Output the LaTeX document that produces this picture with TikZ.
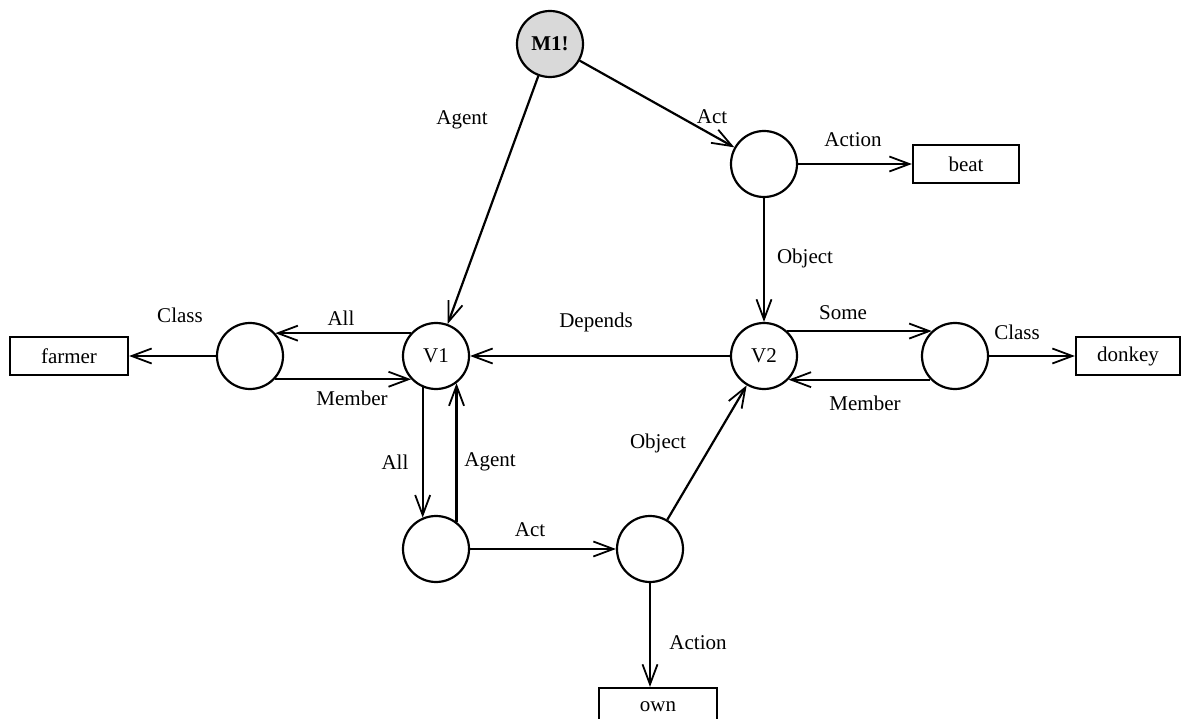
\documentclass[tikz,border=0pt]{standalone}
\usepackage{fontspec}
\setmainfont{Liberation Serif}
\usetikzlibrary{arrows.meta}
\begin{document}
\begin{tikzpicture}[x=1pt,y=-1pt,
  every node/.style={font=\fontsize{21}{25}\selectfont},
  vnode/.style={circle,draw,line width=2.2pt,minimum size=66pt,inner sep=0pt},
  lex/.style={rectangle,draw,line width=2.2pt,minimum height=38pt,inner sep=0pt},
  arr/.style={line width=2.2pt,-{Straight Barb[length=20pt,width=15pt,line width=1.8pt]}},
  lbl/.style={inner sep=1pt}]
\useasboundingbox (0,0) rectangle (1181,719);
% nodes
\node[vnode,fill=gray!30,font=\fontsize{21}{25}\selectfont\bfseries] (M1) at (550,44) {M1!};
\node[vnode] (act1) at (764,164) {};
\node[lex,minimum width=106pt] (beat) at (966,164) {beat};
\node[vnode] (V1) at (436,356) {V1};
\node[vnode] (V2) at (764,356) {V2};
\node[vnode] (L) at (250,356) {};
\node[vnode] (R) at (955,356) {};
\node[lex,minimum width=118pt] (farmer) at (69,356) {farmer};
\node[lex,minimum width=104pt] (donkey) at (1128,356) {donkey};
\node[vnode] (BL) at (436,549) {};
\node[vnode] (BM) at (650,549) {};
\node[lex,minimum width=118pt] (own) at (658,707) {own};
% connectors
\draw[arr] (M1) -- (V1);
\draw[arr] (M1) -- (act1);
\draw[arr] (act1) -- (beat);
\draw[arr] (act1) -- (V2);
\draw[arr] (V2) -- (V1);
\draw[arr] (V1.138) -- (L.42);
\draw[arr] (L.-43) -- (V1.-137);
\draw[arr] (L) -- (farmer);
\draw[arr] (V2.47) -- (R.133);
\draw[arr] (R.-136) -- (V2.-44);
\draw[arr] (R) -- (donkey);
\draw[arr] (V1.-113) -- (BL.113);
\draw[arr] (BL.53) -- (V1.-53);
\draw[arr] (BL) -- (BM);
\draw[arr] (BM) -- (V2);
\draw[arr] (BM) -- (BM |- own.north);
% labels
\node[lbl] (tAgent1) at (462,120) {Agent};
\node[lbl] (tAct1) at (712,117) {Act};
\node[lbl] (tAction1) at (853,140) {Action};
\node[lbl] (tObject1) at (805,258) {Object};
\node[lbl] (tDepends) at (596,322) {Depends};
\node[lbl] (tAll1) at (341,318) {All};
\node[lbl] (tMember1) at (352,398) {Member};
\node[lbl] (tClass1) at (180,315) {Class};
\node[lbl] (tSome) at (843,313) {Some};
\node[lbl] (tClass2) at (1017,332) {Class};
\node[lbl] (tMember2) at (865,403) {Member};
\node[lbl] (tAll2) at (395,462) {All};
\node[lbl] (tAgent2) at (490,462) {Agent};
\node[lbl] (tAct2) at (530,530) {Act};
\node[lbl] (tObject2) at (658,443) {Object};
\node[lbl] (tAction2) at (698,643) {Action};
\end{tikzpicture}
\end{document}
